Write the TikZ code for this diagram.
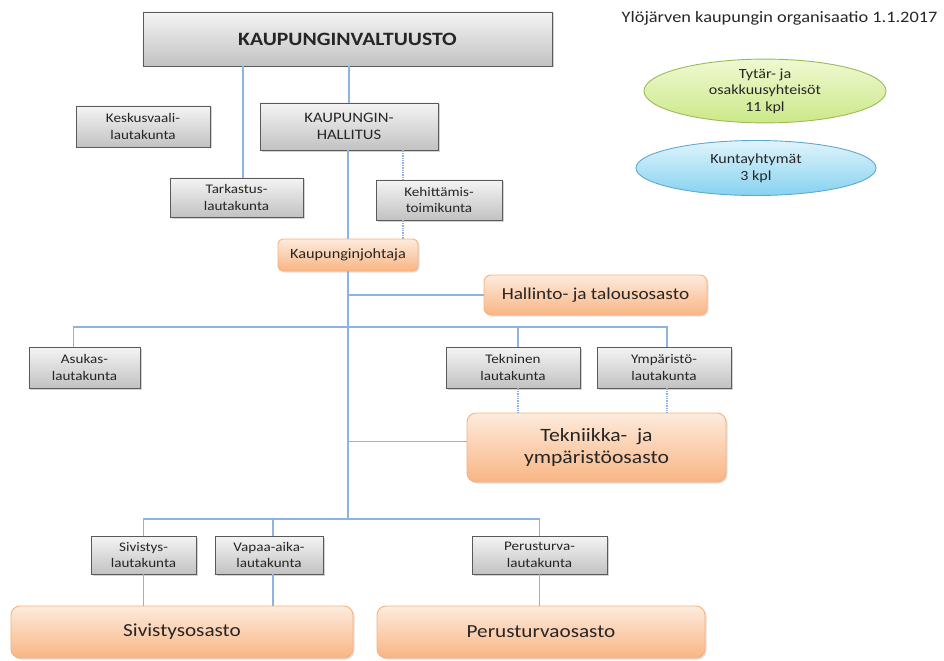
\documentclass[tikz,border=0pt]{standalone}
\usepackage{fontspec}
\setmainfont{Carlito}[FakeStretch=1.15]
\usetikzlibrary{shapes.geometric, shadows, positioning}

\definecolor{linkblue}{HTML}{8DB3E2}
\definecolor{greytop}{HTML}{F4F4F4}
\definecolor{greybot}{HTML}{C2C2C2}
\definecolor{greyline}{HTML}{5A5A5A}
\definecolor{orangetop}{HTML}{FDEBDC}
\definecolor{orangebot}{HTML}{F9B584}
\definecolor{orangeline}{HTML}{F6B27D}
\definecolor{greentop}{HTML}{F0F9D2}
\definecolor{greenbot}{HTML}{CBE888}
\definecolor{greenline}{HTML}{9BBB59}
\definecolor{bluetop}{HTML}{E0F4FC}
\definecolor{bluebot}{HTML}{86D2F0}
\definecolor{blueline}{HTML}{5FA8CF}

\begin{document}
\begin{tikzpicture}[x=1bp, y=-1bp,
    lauta/.style={rectangle, draw=greyline, line width=0.9bp, top color=greytop, bottom color=greybot, align=center, text=black!85, inner sep=1bp, font=\fontsize{13.2}{16.5}\selectfont, drop shadow={shadow xshift=1.5bp, shadow yshift=-1.5bp, opacity=0.35}},
    osasto/.style={rectangle, rounded corners=7bp, draw=orangeline, line width=0.9bp, top color=orangetop, bottom color=orangebot, align=center, text=black!85, inner sep=1bp, drop shadow={shadow xshift=1.5bp, shadow yshift=-1.5bp, opacity=0.25}},
    yhteiso/.style={ellipse, line width=0.9bp, align=center, text=black!85, inner sep=0pt, font=\fontsize{14}{16.7}\selectfont},
    line/.style={draw=linkblue, line width=1.4bp},
    dotline/.style={line, densely dotted}
]
\useasboundingbox (0,0) rectangle (944,661);

\node[lauta, minimum width=409bp, minimum height=54bp, font=\fontsize{18.9}{22}\selectfont\bfseries] (valtuusto) at (347.5,39) {KAUPUNGINVALTUUSTO};

\node[font=\fontsize{16}{18}\selectfont, text=black!85, anchor=east] (otsikko) at (941,18) {Ylöjärven kaupungin organisaatio 1.1.2017};

\node[lauta, minimum width=134bp, minimum height=41bp] (keskus) at (143,126.5) {Keskusvaali-\\lautakunta};
\node[lauta, minimum width=178bp, minimum height=47bp, font=\fontsize{14.5}{17}\selectfont] (hallitus) at (349,126.5) {KAUPUNGIN-\\HALLITUS};
\node[lauta, minimum width=133bp, minimum height=39bp] (tarkastus) at (236.5,197.5) {Tarkastus-\\lautakunta};
\node[lauta, minimum width=126bp, minimum height=40bp] (kehittamis) at (439,200) {Kehittämis-\\toimikunta};

\node[osasto, rounded corners=5bp, minimum width=140bp, minimum height=32bp, font=\fontsize{14.2}{16}\selectfont] (johtaja) at (348,255) {Kaupunginjohtaja};
\node[osasto, minimum width=223bp, minimum height=40bp, font=\fontsize{16.8}{19}\selectfont] (hallinto) at (595.5,295) {Hallinto- ja talousosasto};

\node[lauta, minimum width=111bp, minimum height=41bp] (asukas) at (84.5,367.5) {Asukas-\\lautakunta};
\node[lauta, minimum width=134bp, minimum height=41bp] (tekninen) at (513,367.5) {Tekninen\\lautakunta};
\node[lauta, minimum width=134bp, minimum height=41bp] (ymparisto) at (664,367.5) {Ympäristö-\\lautakunta};
\node[osasto, rounded corners=9bp, minimum width=259bp, minimum height=69bp, font=\fontsize{18.9}{22.5}\selectfont] (tekniikka) at (596.5,447.5) {Tekniikka-~ ja\\ympäristöosasto};

\node[lauta, minimum width=105bp, minimum height=38bp] (sivistys) at (143.5,555) {Sivistys-\\lautakunta};
\node[lauta, minimum width=108bp, minimum height=38bp] (vapaa) at (269,555) {Vapaa-aika-\\lautakunta};
\node[lauta, minimum width=135bp, minimum height=38bp] (perusturva) at (539.5,555) {Perusturva-\\lautakunta};

\node[osasto, rounded corners=9bp, minimum width=342bp, minimum height=52bp, font=\fontsize{18.5}{22}\selectfont] (sivistysosasto) at (182,632) {Sivistysosasto};
\node[osasto, rounded corners=9bp, minimum width=328bp, minimum height=52bp, font=\fontsize{18.5}{22}\selectfont] (perusturvaosasto) at (541,632) {Perusturvaosasto};

\node[yhteiso, draw=greenline, top color=greentop, bottom color=greenbot, minimum width=242bp, minimum height=50bp] (tytar) at (765,91) {Tytär- ja\\osakkuusyhteisöt\\11 kpl};
\node[yhteiso, draw=blueline, top color=bluetop, bottom color=bluebot, minimum width=240bp, minimum height=55bp] (kunta) at (756,168) {Kuntayhtymät\\3 kpl};

\coordinate (haara1) at (348,327);
\coordinate (haara2) at (348,519);

\draw[line] ([xshift=6.5bp]tarkastus.north |- valtuusto.south) -- ([xshift=6.5bp]tarkastus.north);
\draw[line] (valtuusto.south -| hallitus) -- (hallitus.north);
\draw[line] (hallitus.south -| johtaja) -- (johtaja.north);
\draw[dotline] ([xshift=-36bp]kehittamis.north |- hallitus.south) -- ([xshift=-36bp]kehittamis.north);
\draw[dotline] ([xshift=-36bp]kehittamis.south) -- ([xshift=-36bp]kehittamis.south |- johtaja.north);

\draw[line] (johtaja.south) -- (haara2);
\draw[line] (johtaja.south |- hallinto.west) -- (hallinto.west);

\draw[line] ([xshift=-11bp]asukas.north) |- ([xshift=3bp]ymparisto.north |- haara1) -- ([xshift=3bp]ymparisto.north);
\draw[line] ([xshift=5bp]tekninen.north |- haara1) -- ([xshift=5bp]tekninen.north);
\draw[dotline] ([xshift=5bp]tekninen.south) -- ([xshift=5bp]tekninen.south |- tekniikka.north);
\draw[dotline] ([xshift=3bp]ymparisto.south) -- ([xshift=3bp]ymparisto.south |- tekniikka.north);
\draw[line] ([yshift=6bp]tekniikka.west -| johtaja.south) -- ([yshift=6bp]tekniikka.west);

\draw[line] (sivistys.north) |- (perusturva.north |- haara2) -- (perusturva.north);
\draw[line] ([xshift=4bp]vapaa.north |- haara2) -- ([xshift=4bp]vapaa.north);
\draw[line] (sivistys.south) -- (sivistys.south |- sivistysosasto.north);
\draw[line] ([xshift=4bp]vapaa.south) -- ([xshift=4bp]vapaa.south |- sivistysosasto.north);
\draw[line] (perusturva.south) -- (perusturva.south |- perusturvaosasto.north);

\end{tikzpicture}
\end{document}
